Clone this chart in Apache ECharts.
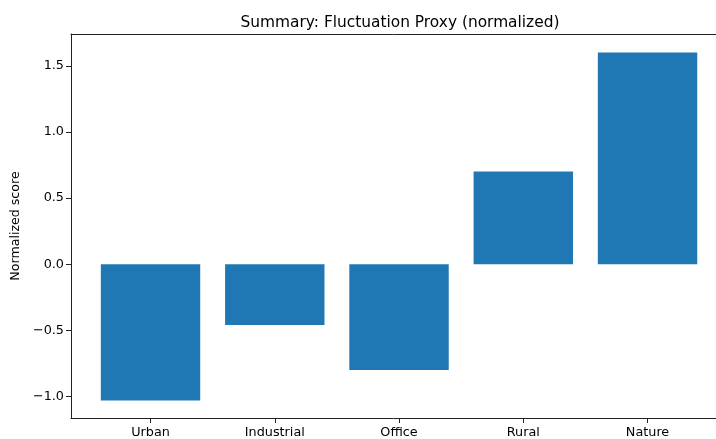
<!DOCTYPE html>
<html>
<head>
<meta charset="utf-8">
<script src="https://cdn.jsdelivr.net/npm/echarts@6/dist/echarts.min.js"></script>
<style>
  html, body { margin: 0; padding: 0; background: #fff; }
  #chart { width: 716px; height: 439px; }
</style>
</head>
<body>
<div id="chart"></div>
<script>
const categories = ['Urban', 'Industrial', 'Office', 'Rural', 'Nature']
const scores = [-1.03, -0.46, -0.80, 0.70, 1.60]
const yTicks = [-1.0, -0.5, 0.0, 0.5, 1.0, 1.5]

const font = 'DejaVu Sans, sans-serif'
const chart = echarts.init(document.getElementById('chart'), null, { renderer: 'canvas' })

// matplotlib-like tick label: unicode minus
const fmt = v => v.toFixed(1).replace('-', '\u2212')
const spine = { color: '#222', width: 1 }

chart.setOption({
  animation: false,
  title: {
    text: 'Summary: Fluctuation Proxy (normalized)',
    left: 395, top: 10, textAlign: 'center',
    textStyle: { fontFamily: font, fontSize: 15.4, fontWeight: 'normal', color: '#000' }
  },
  grid: { left: 71, right: 0, top: 34, bottom: 21 },
  xAxis: [{
    type: 'value', min: -0.64, max: 4.551,
    splitLine: { show: false },
    axisLine: { show: true, onZero: false, lineStyle: spine },
    axisTick: { show: true, length: 5, lineStyle: { color: '#222' }, customValues: categories.map((c, i) => i) },
    axisLabel: {
      customValues: categories.map((c, i) => i),
      formatter: v => categories[Math.round(v)] || '',
      color: '#000', fontFamily: font, fontSize: 12.8, margin: 8
    }
  }, {
    // top spine only
    type: 'value', position: 'top', min: -0.64, max: 4.551,
    splitLine: { show: false }, axisTick: { show: false }, axisLabel: { show: false },
    axisLine: { show: true, onZero: false, lineStyle: spine }
  }],
  yAxis: {
    type: 'value', min: -1.162, max: 1.74,
    name: 'Normalized score', nameLocation: 'middle', nameGap: 47, nameRotate: 90,
    nameTextStyle: { fontFamily: font, fontSize: 12.6, color: '#000' },
    splitLine: { show: false },
    axisLine: { show: true, onZero: false, lineStyle: spine },
    axisTick: { show: true, length: 5, lineStyle: { color: '#222' }, customValues: yTicks },
    axisLabel: {
      customValues: yTicks, formatter: fmt,
      color: '#000', fontFamily: font, fontSize: 12.8, margin: 7
    }
  },
  series: [{
    type: 'bar',
    data: scores.map((v, i) => [i, v]),
    barWidth: 99.4,
    itemStyle: { color: '#1f77b4' }
  }]
})
</script>
</body>
</html>
